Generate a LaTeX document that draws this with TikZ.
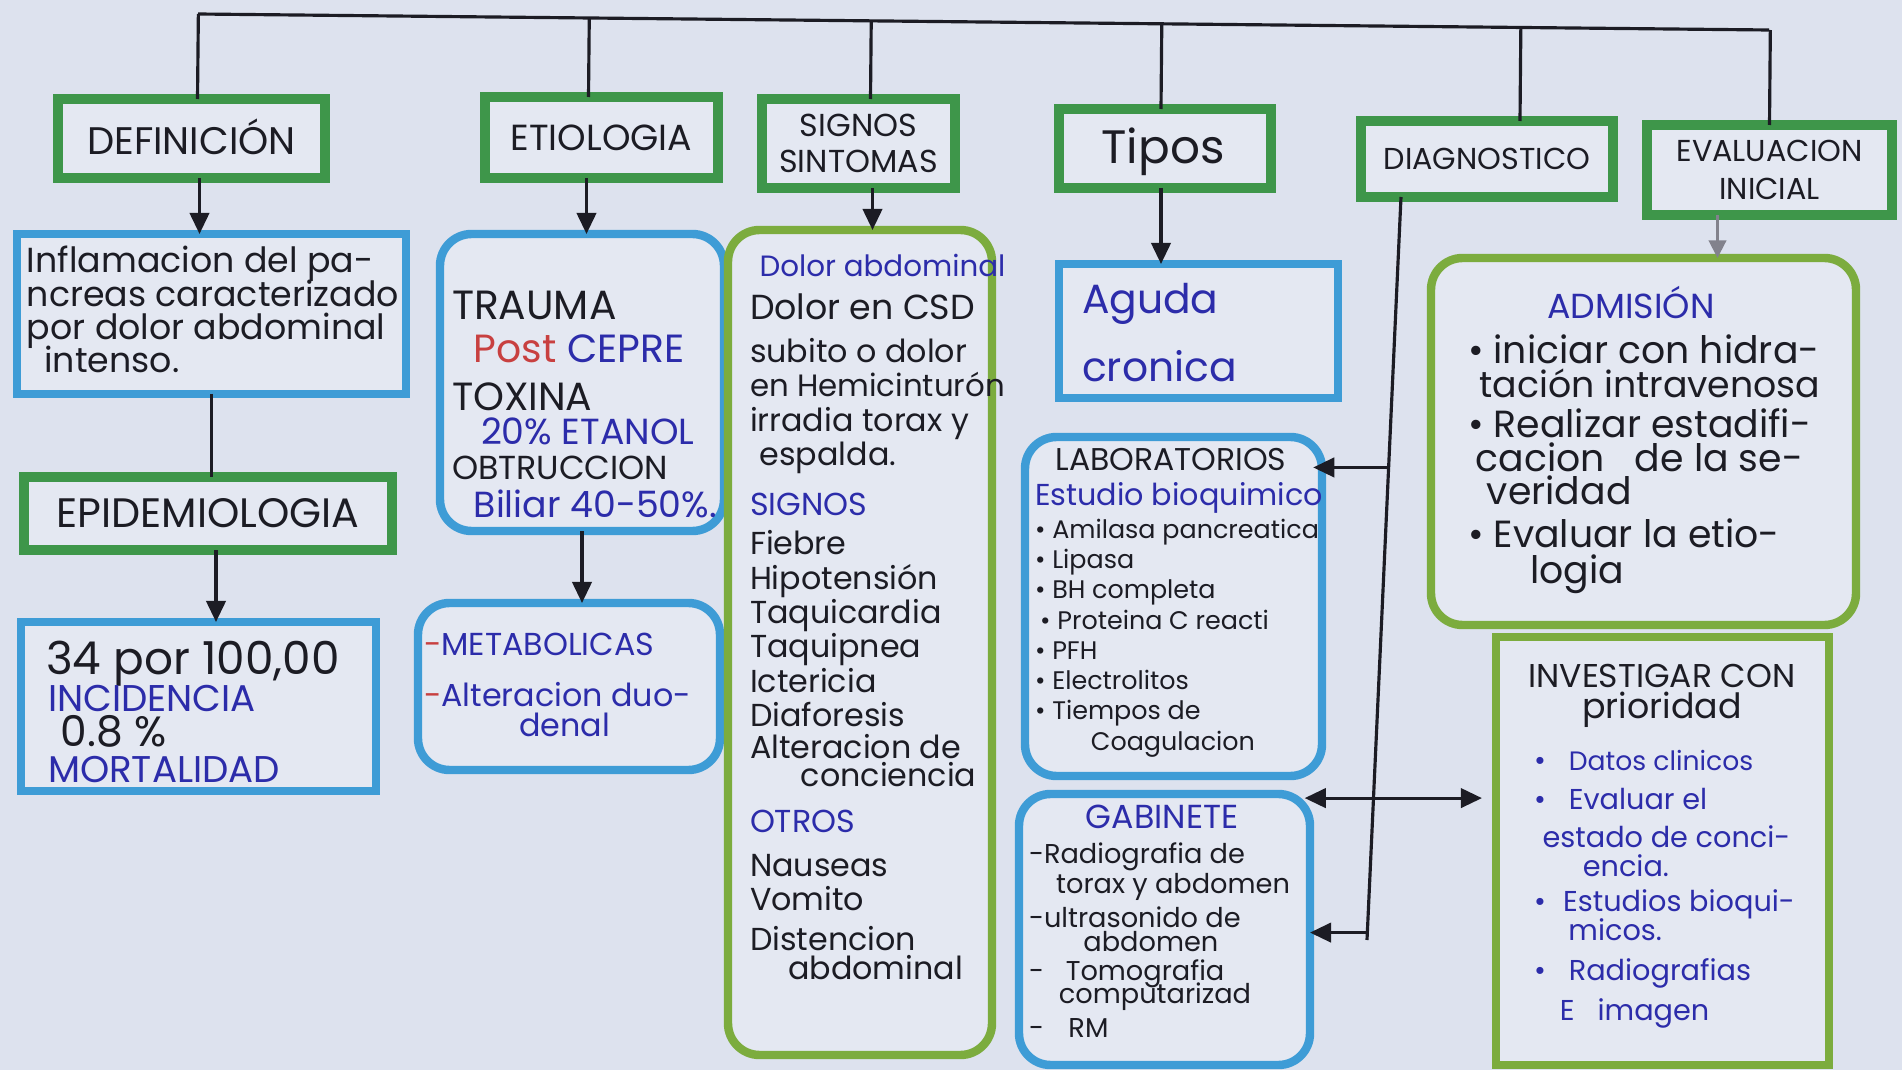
\documentclass[tikz,border=0pt]{standalone}
\usepackage{fontspec}
\setmainfont{Poppins}
\usetikzlibrary{arrows.meta,calc,fit}

\definecolor{paper}{RGB}{221,226,238}
\definecolor{boxfill}{RGB}{228,232,242}
\definecolor{tgreen}{RGB}{62,150,74}
\definecolor{lgreen}{RGB}{124,172,62}
\definecolor{mblue}{RGB}{62,156,214}
\definecolor{ink}{RGB}{28,28,36}
\definecolor{bink}{RGB}{44,44,170}
\definecolor{rink}{RGB}{200,64,64}
\definecolor{pencil}{RGB}{130,130,140}

% nominal size (scaled to a compact face), line pitch; lines keep their pitch
\newcommand\fsz[2]{\fontsize{\fpeval{0.86*#1}}{#2}\selectfont\lineskiplimit=-30pt\lineskip=0pt\relax}
\newcommand\sz[1]{\fontsize{\fpeval{0.86*#1}}{#1}\selectfont}

\begin{document}
\begin{tikzpicture}[x=0.01cm, y=-0.01cm,
  every node/.style={inner sep=0pt, outer sep=0pt},
  titlebox/.style={draw=tgreen, line width=2.6pt, fill=boxfill},
  bluebox/.style={draw=mblue, line width=2.4pt, fill=boxfill},
  greenbox/.style={draw=lgreen, line width=2.4pt, fill=boxfill},
  soft/.style={rounded corners=9pt},
  ttl/.style={anchor=center, align=center, text=ink},
  % multi-line texts are placed by the baseline of their last line
  txt/.style={anchor=base west, align=left, text=ink},
  ctxt/.style={anchor=base, align=center, text=ink},
  link/.style={draw=ink, line width=0.9pt},
  arr/.style={link, -{Triangle[length=6pt,width=5.5pt]}},
  arrs/.style={link, {Triangle[length=6pt,width=5.5pt]}-{Triangle[length=6pt,width=5.5pt]}},
  garr/.style={draw=pencil, line width=0.6pt, -{Triangle[length=5pt,width=5pt]}},
]
% paper
\fill[paper] (0,0) rectangle (1902,1070);
\useasboundingbox (0,0) rectangle (1902,1070);

% ---------- headings ----------
\node[titlebox, fit={(58,99) (325,178)}] (t_def) {};
\node[titlebox, fit={(485,97) (718,178)}] (t_eti) {};
\node[titlebox, fit={(762,99) (955,188)}] (t_sig) {};
\node[titlebox, fit={(1059,109) (1271,188)}] (t_tip) {};
\node[titlebox, fit={(1361,121) (1613,197)}] (t_dia) {};
\node[titlebox, fit={(1647,125) (1892,215)}] (t_eva) {};
\node[titlebox, fit={(24,477) (392,550)}] (t_epi) {};

\node[ttl, font=\fsz{12.7}{12}] (l_def) at ($(t_def.center)+(0,-2)$) {DEFINICIÓN};
\node[ttl, font=\fsz{12}{12}] (l_eti) at (t_eti.center) {ETIOLOGIA};
\node[ttl, font=\fsz{10.5}{10.4}] (l_sig) at (t_sig.center) {SIGNOS\\SINTOMAS};
\node[ttl, font=\fsz{15.5}{14}] (l_tip) at ($(t_tip.center)+(-2,3)$) {Tipos};
\node[ttl, font=\fsz{10}{10}] (l_dia) at (t_dia.center) {DIAGNOSTICO};
\node[ttl, font=\fsz{10}{11}] (l_eva) at (t_eva.center) {EVALUACION\\INICIAL};
\node[ttl, font=\fsz{13.6}{12}] (l_epi) at (t_epi.center) {EPIDEMIOLOGIA};

% ---------- content boxes ----------
\node[bluebox, fit={(17,234) (406,394)}] (b_def) {};
\node[bluebox, fit={(21,622) (376,791)}] (b_epi) {};
\node[bluebox, soft, fit={(440,234) (724,531)}] (b_eti) {};
\node[bluebox, soft, fit={(418,603) (720,770)}] (b_met) {};
\node[greenbox, soft, fit={(728,230) (992,1055)}] (b_sig) {};
\node[bluebox, fit={(1059,264) (1338,398)}] (b_tip) {};
\node[bluebox, soft, fit={(1025,437) (1322,776)}] (b_lab) {};
\node[bluebox, soft, fit={(1019,794) (1310,1065)}] (b_gab) {};
\node[greenbox, soft, fit={(1431,258) (1856,625)}] (b_adm) {};
\node[greenbox, fit={(1496,637) (1829,1065)}] (b_inv) {};

% ---------- top bus ----------
\coordinate (busL) at (198,14);
\coordinate (busR) at (1769,30);
\draw[link] (busL) -- (busR);
\coordinate (p1) at ($(t_def.north)+(6,0)$);
\coordinate (p2) at ($(t_eti.north)+(-13,0)$);
\coordinate (p3) at ($(t_sig.north)+(12,0)$);
\coordinate (p4) at ($(t_tip.north)+(-4,0)$);
\coordinate (p5) at ($(t_dia.north)+(33,0)$);
\coordinate (p6) at (t_eva.north);
\foreach \p in {p1,p2,p3,p4,p5,p6}
  \draw[link] (\p) -- ($(busL)!(\p)!(busR)$);

% ---------- downward links ----------
\coordinate (a1) at ($(t_def.south)+(8,0)$);
\draw[arr] (a1) -- (a1 |- b_def.north);
\draw[link] (b_def.south) -- (b_def.south |- t_epi.north);
\coordinate (a2) at ($(t_epi.south)+(8,0)$);
\draw[arr] (a2) -- (a2 |- b_epi.north);
\coordinate (a3) at ($(t_eti.south)+(-15,0)$);
\draw[arr] (a3) -- (a3 |- b_eti.north);
\draw[arr] (b_eti.south) -- (b_eti.south |- b_met.north);
\coordinate (a4) at ($(t_sig.south)+(14,0)$);
\draw[arr] (a4) -- (a4 |- b_sig.north);
\coordinate (a5) at ($(t_tip.south)+(-4,0)$);
\draw[arr] (a5) -- (a5 |- b_tip.north);
\coordinate (a6) at ($(t_eva.south)+(-52,0)$);
\draw[garr] (a6) -- (a6 |- b_adm.north);

% ---------- diagnosis branch ----------
\coordinate (dtop) at ($(t_dia.south west)+(40,0)$);
\coordinate (dbot) at (1367,940);
\draw[link] (dtop) -- (dbot);
\coordinate (d1) at ($(dtop)!0.364!(dbot)$);
\coordinate (d2) at ($(dtop)!0.809!(dbot)$);
\coordinate (d3) at ($(dtop)!0.99!(dbot)$);
\draw[arr, shorten >=-2.5pt] (d1) -- (d1 -| b_lab.east);
\draw[arrs, shorten <=-1.5pt, shorten >=4pt] (b_gab.east |- d2) -- (b_inv.west |- d2);
\draw[arr] (d3) -- (d3 -| b_gab.east);

% ---------- texts ----------
\node[txt, font=\fsz{11.5}{9.5}] (x_def) at (27,373)
  {Inflamacion del pa-\\ncreas caracterizado\\por dolor abdominal\\\hspace*{0.5em}intenso.};

\node[txt, font=\fsz{15}{12}] (x_epi1) at (46,674) {34 por 100,00};
\node[txt, font=\fsz{12.3}{10}, text=bink] (x_epi2) at (48,782)
  {INCIDENCIA\\{\color{ink}\sz{14}\hspace*{0.3em}0.8 \%}\\MORTALIDAD};

\node[txt, font=\fsz{12}{10}] (x_eti) at (452,518)
  {{\sz{13.5}TRAUMA}\\[2.2pt]
   \hspace*{0.6em}{\sz{13}{\color{rink}Post} {\color{bink}CEPRE}}\\[3.8pt]
   {\sz{13}TOXINA}\\[-0.5pt]
   \hspace*{0.8em}{\color{bink}\sz{12}20\% ETANOL}\\
   {\sz{11}OBTRUCCION}\\[1pt]
   \hspace*{0.6em}{\color{bink}Biliar 40-50\%.}};

\node[txt, font=\fsz{10.5}{10}, text=bink] (x_met) at (424,736)
  {{\color{rink}-}METABOLICAS\\[4.5pt]{\color{rink}-}Alteracion duo-\\[-1.5pt]\hspace*{3em}denal};

\node[txt, font=\fsz{10.5}{9.8}] (x_sig) at (750,979)
  {\hspace*{0.3em}{\color{bink}\sz{9.7}Dolor abdominal}\\[2.7pt]
   {\sz{11.5}Dolor en CSD}\\[2.2pt]
   subito o dolor\\
   {\sz{10.2}en Hemicinturón}\\
   irradia torax y\\
   \hspace*{0.3em}espalda.\\[4.4pt]
   {\color{bink}SIGNOS}\\[1.3pt]
   Fiebre\\
   Hipotensión\\
   Taquicardia\\
   Taquipnea\\
   Ictericia\\
   Diaforesis\\[-0.7pt]
   Alteracion de\\[-2pt]
   \hspace*{1.6em}conciencia\\[3.3pt]
   {\color{bink}OTROS}\\[2.7pt]
   Nauseas\\
   Vomito\\[1.6pt]
   Distencion\\[-1.8pt]
   \hspace*{1.2em}abdominal};

\node[txt, font=\fsz{13.5}{19.3}, text=bink] (x_tip) at (1082,381) {Aguda\\cronica};

\node[ctxt, font=\fsz{10.4}{9}] (x_lab1) at (1171,471) {LABORATORIOS};
\node[txt, font=\fsz{8.4}{8.6}] (x_lab2) at (1035,750)
  {{\color{bink}\sz{10}Estudio bioquimico}\\[0.8pt]
   \textbullet\ Amilasa pancreatica\\
   \textbullet\ Lipasa\\
   \textbullet\ BH completa\\
   \hspace*{0.2em}\textbullet\ Proteina C reacti\\
   \textbullet\ PFH\\
   \textbullet\ Electrolitos\\
   \textbullet\ Tiempos de\\
   \hspace*{2.2em}Coagulacion};

\node[ctxt, font=\fsz{11}{9.5}, text=bink] (x_gab1) at (1162,828) {GABINETE};
\node[txt, font=\fsz{9}{8.2}] (x_gab2) at (1029,1037)
  {-Radiografia de\\[0.3pt]
   \hspace*{1em}torax y abdomen\\[1.5pt]
   -ultrasonido de\\[-1.4pt]
   \hspace*{2em}abdomen\\[-0.2pt]
   -\hspace*{0.8em}Tomografia\\[-1.4pt]
   \hspace*{1.1em}computarizad\\[1.2pt]
   -\hspace*{0.9em}RM};

\node[ctxt, font=\fsz{11.5}{10.5}, text=bink] (x_adm1) at (1631,318) {ADMISIÓN};
\node[txt, font=\fsz{12.5}{10}] (x_adm2) at (1468,583)
  {\textbullet\ iniciar con hidra-\\[-0.3pt]
   \hspace*{0.3em}{\sz{12}tación intravenosa}\\[1.4pt]
   \textbullet\ Realizar estadifi-\\[-0.3pt]
   \hspace*{0.2em}cacion\hspace*{0.8em}de la se-\\[-0.8pt]
   \hspace*{0.5em}veridad\\[2.4pt]
   \textbullet\ Evaluar la etio-\\
   \hspace*{1.65em}logia};

\node[ctxt, font=\fsz{10.9}{8.8}] (x_inv1) at (1662,718) {INVESTIGAR CON\\{\sz{11.5}prioridad}};
\node[txt, font=\fsz{9.5}{10}, text=bink] (x_inv2) at (1534,1020)
  {\textbullet\hspace*{0.8em}{\sz{8.8}Datos clinicos}\\[1pt]
   \textbullet\hspace*{0.8em}Evaluar el\\[0.8pt]
   \hspace*{0.3em}estado de conci-\\[-1.7pt]
   \hspace*{1.7em}encia.\\
   \textbullet\hspace*{0.6em}Estudios bioqui-\\[-1.7pt]
   \hspace*{1.2em}micos.\\[1.4pt]
   \textbullet\hspace*{0.8em}Radiografias\\[1.1pt]
   \hspace*{0.9em}E\hspace*{0.8em}imagen};
\end{tikzpicture}
\end{document}
